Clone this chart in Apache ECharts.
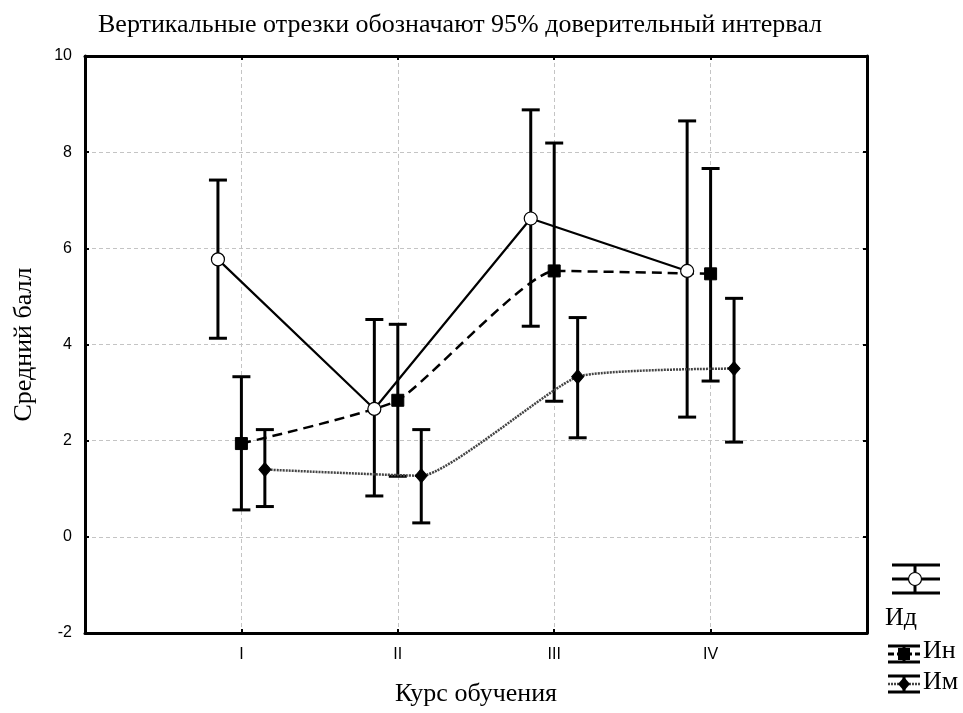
<!DOCTYPE html>
<html>
<head>
<meta charset="utf-8">
<script src="https://cdn.jsdelivr.net/npm/echarts@6/dist/echarts.min.js"></script>
<style>
html,body{margin:0;padding:0;background:#fff;}
#chart{width:963px;height:713px;}
</style>
</head>
<body>
<div id="chart"></div>
<script>
// ---- Data ----
const categories = ['I', 'II', 'III', 'IV'];
const seriesNames = ['Ид', 'Ин', 'Им'];
const yTicks = [-2, 0, 2, 4, 6, 8, 10];

const idMean = [5.77, 2.66, 6.62, 5.53];
const idLow  = [4.13, 0.85, 4.38, 2.49];
const idHigh = [7.42, 4.52, 8.88, 8.65];

const inMean = [1.94, 2.84, 5.53, 5.47];
const inLow  = [0.56, 1.26, 2.82, 3.24];
const inHigh = [3.33, 4.42, 8.19, 7.66];

const imMean = [1.40, 1.27, 3.33, 3.50];
const imLow  = [0.63, 0.29, 2.06, 1.97];
const imHigh = [2.23, 2.23, 4.56, 4.96];

const titleText = 'Вертикальные отрезки обозначают 95% доверительный интервал';
const xTitle = 'Курс обучения';
const yTitle = 'Средний балл';

// ---- Build ----
const offsets = [-0.15, 0, 0.15];
const means = [idMean, inMean, imMean];
const lows = [idLow, inLow, imLow];
const highs = [idHigh, inHigh, imHigh];

function pts(k) {
  return means[k].map((v, i) => [i + 1 + offsets[k], v]);
}
function bars(k) {
  return means[k].map((v, i) => [i + 1 + offsets[k], lows[k][i], highs[k][i]]);
}

function errRender(params, api) {
  const x = api.value(0);
  const lo = api.coord([x, api.value(1)]);
  const hi = api.coord([x, api.value(2)]);
  const hw = 9;
  const st = { stroke: '#000', lineWidth: 3 };
  return {
    type: 'group',
    children: [
      { type: 'line', shape: { x1: lo[0], y1: lo[1], x2: hi[0], y2: hi[1] }, style: st },
      { type: 'line', shape: { x1: lo[0] - hw, y1: lo[1], x2: lo[0] + hw, y2: lo[1] }, style: st },
      { type: 'line', shape: { x1: hi[0] - hw, y1: hi[1], x2: hi[0] + hw, y2: hi[1] }, style: st }
    ]
  };
}

const serif = '"Liberation Serif", "Times New Roman", serif';
const sans = '"Liberation Sans", Arial, sans-serif';

const chart = echarts.init(document.getElementById('chart'), null, { renderer: 'canvas' });

const axisLine = { show: true, onZero: false, lineStyle: { color: '#000', width: 3 } };
const axisTick = { show: true, inside: true, length: 4, lineStyle: { color: '#000', width: 2 } };
const splitLine = { show: true, lineStyle: { color: '#c4c4c4', type: [4, 3], width: 1 } };

const option = {
  animation: false,
  backgroundColor: '#fff',
  title: {
    text: titleText,
    left: 455, top: 7, textAlign: 'center',
    textStyle: { fontFamily: serif, fontSize: 26, fontWeight: 'normal', color: '#000' }
  },
  grid: { left: 85, right: 96, top: 56, bottom: 80, show: false },
  xAxis: [{
    type: 'value', min: 0, max: 5, interval: 1, position: 'bottom',
    name: xTitle, nameLocation: 'middle', nameGap: 48,
    nameTextStyle: { fontFamily: serif, fontSize: 26, color: '#000' },
    axisLine: axisLine, axisTick: axisTick,
    axisLabel: {
      margin: 14, fontFamily: sans, fontSize: 16, color: '#000',
      formatter: v => (v >= 1 && v <= categories.length) ? categories[v - 1] : ''
    },
    splitLine: splitLine
  }, {
    type: 'value', min: 0, max: 5, interval: 1, position: 'top',
    axisLine: axisLine, axisTick: axisTick,
    axisLabel: { show: false }, splitLine: { show: false }
  }],
  yAxis: [{
    type: 'value', min: yTicks[0], max: yTicks[yTicks.length - 1], interval: 2, position: 'left',
    name: yTitle, nameLocation: 'middle', nameGap: 48, nameRotate: 90,
    nameTextStyle: { fontFamily: serif, fontSize: 26, color: '#000' },
    axisLine: axisLine, axisTick: axisTick,
    axisLabel: { margin: 13, fontFamily: sans, fontSize: 16, color: '#000' },
    splitLine: splitLine
  }, {
    type: 'value', min: yTicks[0], max: yTicks[yTicks.length - 1], interval: 2, position: 'right',
    axisLine: axisLine, axisTick: axisTick,
    axisLabel: { show: false }, splitLine: { show: false }
  }],
  series: [
    { type: 'custom', name: seriesNames[0] + ' CI', renderItem: errRender, data: bars(0), z: 3, encode: { x: 0, y: [1, 2] } },
    { type: 'custom', name: seriesNames[1] + ' CI', renderItem: errRender, data: bars(1), z: 3, encode: { x: 0, y: [1, 2] } },
    { type: 'custom', name: seriesNames[2] + ' CI', renderItem: errRender, data: bars(2), z: 3, encode: { x: 0, y: [1, 2] } },
    {
      type: 'line', name: seriesNames[2], data: pts(2), smooth: 0.15, z: 4,
      symbol: 'diamond', symbolSize: [12, 14],
      itemStyle: { color: '#000', borderColor: '#000' },
      lineStyle: { color: '#444', width: 2.5, type: [2, 1] }
    },
    {
      type: 'line', name: seriesNames[1], data: pts(1), smooth: 0.15, z: 5,
      symbol: 'rect', symbolSize: 12,
      itemStyle: { color: '#000', borderColor: '#000' },
      lineStyle: { color: '#000', width: 2.5, type: [10, 6] }
    },
    {
      type: 'line', name: seriesNames[0], data: pts(0), smooth: false, z: 6,
      symbol: 'circle', symbolSize: 13,
      itemStyle: { color: '#fff', borderColor: '#000', borderWidth: 1.2 },
      lineStyle: { color: '#000', width: 2.2 }
    }
  ],
  graphic: [
    // Ид legend icon
    { type: 'line', shape: { x1: 892, y1: 565, x2: 940, y2: 565 }, style: { stroke: '#000', lineWidth: 3 } },
    { type: 'line', shape: { x1: 892, y1: 579, x2: 940, y2: 579 }, style: { stroke: '#000', lineWidth: 3 } },
    { type: 'line', shape: { x1: 892, y1: 593, x2: 940, y2: 593 }, style: { stroke: '#000', lineWidth: 3 } },
    { type: 'line', shape: { x1: 915, y1: 565, x2: 915, y2: 593 }, style: { stroke: '#000', lineWidth: 3 } },
    { type: 'circle', shape: { cx: 915, cy: 579, r: 6.5 }, style: { fill: '#fff', stroke: '#000', lineWidth: 1.2 } },
    { type: 'text', left: 885, top: 605, style: { text: seriesNames[0], font: '26px ' + serif, fill: '#000' } },
    // Ин legend icon
    { type: 'line', shape: { x1: 888, y1: 646, x2: 920, y2: 646 }, style: { stroke: '#000', lineWidth: 3 } },
    { type: 'line', shape: { x1: 888, y1: 654, x2: 920, y2: 654 }, style: { stroke: '#000', lineWidth: 3, lineDash: [6, 3] } },
    { type: 'line', shape: { x1: 888, y1: 662, x2: 920, y2: 662 }, style: { stroke: '#000', lineWidth: 3 } },
    { type: 'line', shape: { x1: 904, y1: 646, x2: 904, y2: 662 }, style: { stroke: '#000', lineWidth: 3 } },
    { type: 'rect', shape: { x: 898, y: 648, width: 12, height: 12 }, style: { fill: '#000' } },
    { type: 'text', left: 923, top: 638, style: { text: seriesNames[1], font: '26px ' + serif, fill: '#000' } },
    // Им legend icon
    { type: 'line', shape: { x1: 888, y1: 676, x2: 920, y2: 676 }, style: { stroke: '#000', lineWidth: 3 } },
    { type: 'line', shape: { x1: 888, y1: 684, x2: 920, y2: 684 }, style: { stroke: '#444', lineWidth: 2.5, lineDash: [2, 1] } },
    { type: 'line', shape: { x1: 888, y1: 692, x2: 920, y2: 692 }, style: { stroke: '#000', lineWidth: 3 } },
    { type: 'line', shape: { x1: 904, y1: 676, x2: 904, y2: 692 }, style: { stroke: '#000', lineWidth: 3 } },
    { type: 'polygon', shape: { points: [[904, 677], [910, 684], [904, 691], [898, 684]] }, style: { fill: '#000' } },
    { type: 'text', left: 923, top: 669, style: { text: seriesNames[2], font: '26px ' + serif, fill: '#000' } }
  ]
};
chart.setOption(option);
</script>
</body>
</html>
